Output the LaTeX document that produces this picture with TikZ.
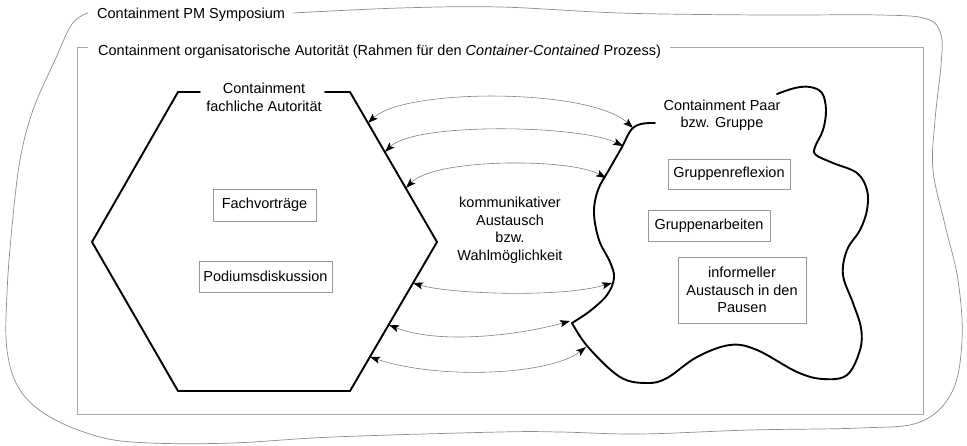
\documentclass[tikz,border=0pt]{standalone}
\usepackage{fontspec}
\setmainfont{Liberation Sans}
\usetikzlibrary{arrows.meta}
\definecolor{framegray}{gray}{0.55}
\definecolor{rectgray}{gray}{0.65}
\definecolor{boxgray}{gray}{0.6}
\definecolor{arrowgray}{gray}{0.5}
\begin{document}
\begin{tikzpicture}[x=1pt,y=-1pt,
  font=\fontsize{14.5}{17.5}\selectfont,
  outerline/.style={draw=framegray, line width=0.7pt},
  rectline/.style={draw=rectgray, line width=0.9pt},
  boldline/.style={draw=black, line width=1.9pt, line join=miter, line cap=round},
  box/.style={draw=boxgray, line width=0.8pt, inner sep=0pt, align=center},
  lbl/.style={inner sep=0pt, align=center},
  tip/.tip={Stealth[length=10pt,width=7pt,inset=2.2pt,color=black]},
  xarrow/.style={draw=arrowgray, line width=0.6pt, tip-tip}]
\useasboundingbox (0,0) rectangle (967,446);

% outer symposium boundary
\node[anchor=base west, inner sep=0pt] (t1) at (97,19) {Containment PM Symposium};
\draw[outerline] plot[smooth, tension=0.6] coordinates {
  (293,13) (400,8) (500,7) (620,13) (760,15) (880,15) (927,19) (941,35) (941,65)
  (935,120) (933,170) (945,225) (958,280) (962,340) (952,392) (920,422) (860,428)
  (750,430) (640,434) (560,432) (500,432) (333,437) (233,443) (150,443) (100,437)
  (50,417) (20,390) (7,350) (7,293) (12,227) (20,160) (33,110) (55,60) (72,24) (88,13)};

% organisational frame
\node[anchor=base west, inner sep=0pt] (t2) at (98,56) {Containment organisatorische Autorität (Rahmen für den \textit{Container-Contained} Prozess)};
\draw[rectline] (88,47) -- (77,47) -- (77,414) -- (923,414) -- (923,47) -- (670,47);

% hexagon
\node[lbl] (hext) at (264,97.3) {Containment\\fachliche Autorität};
\draw[boldline] (200,92) -- (178,92) -- (92,242) -- (178,391) -- (350,391) -- (437,242) -- (350,92) -- (325,92);
\node[box, minimum width=103pt, minimum height=32pt] (fach) at (264.5,205) {Fachvorträge};
\node[box, minimum width=133pt, minimum height=31pt] (podium) at (265.5,276.5) {Podiumsdiskussion};

% middle text
\node[lbl] (mid) at (510,230.5) {kommunikativer\\Austausch\\bzw.\\Wahlmöglichkeit};

% blob
\node[lbl] (blobt) at (722,115.5) {Containment Paar\\bzw. Gruppe};
\draw[boldline] plot[smooth, tension=0.6] coordinates {
  (655,123) (641,124) (631,130) (622,147) (610,168) (598,190) (594,213) (599,240)
  (610,262) (614,278) (607,295) (590,311) (572,323)};
\draw[boldline] plot[smooth, tension=0.6] coordinates {
  (572,323) (588,347) (620,377) (647,383) (667,378) (697,357) (730,345) (757,350)
  (797,372) (823,379) (847,375) (860,350) (861,328) (853,303) (843,275) (847,250)
  (860,230) (867,210) (867,190) (857,173) (833,163) (816,155) (815,147) (823,130)
  (826,110) (822,93) (810,87) (795,88) (777,94)};
\node[box, minimum width=122pt, minimum height=30pt] (refl) at (729,174) {Gruppenreflexion};
\node[box, minimum width=122pt, minimum height=31pt] (arb) at (709,225.5) {Gruppenarbeiten};
\node[box, minimum width=128pt, minimum height=66pt] (inf) at (742,290) {informeller\\Austausch in den\\Pausen};

% arrow end points
\coordinate (h1) at (368,123);
\coordinate (h2) at (385,152);
\coordinate (h3) at (406,188);
\coordinate (h4) at (413,283);
\coordinate (h5) at (389,325);
\coordinate (h6) at (370,357);
\coordinate (b1) at (633,128);
\coordinate (b2) at (623,146);
\coordinate (b3) at (606,178);
\coordinate (b4) at (612,283);
\coordinate (b5) at (570,321);
\coordinate (b6) at (586,347);

\draw[xarrow] (h1) .. controls (405,88) and (590,88) .. (b1);
\draw[xarrow] (h2) .. controls (415,122) and (580,125) .. (b2);
\draw[xarrow] (h3) .. controls (435,158) and (570,158) .. (b3);
\draw[xarrow] (h4) .. controls (450,294) and (560,298) .. (b4);
\draw[xarrow] (h5) .. controls (440,345) and (520,335) .. (b5);
\draw[xarrow] (h6) .. controls (440,380) and (550,375) .. (b6);
\end{tikzpicture}
\end{document}
